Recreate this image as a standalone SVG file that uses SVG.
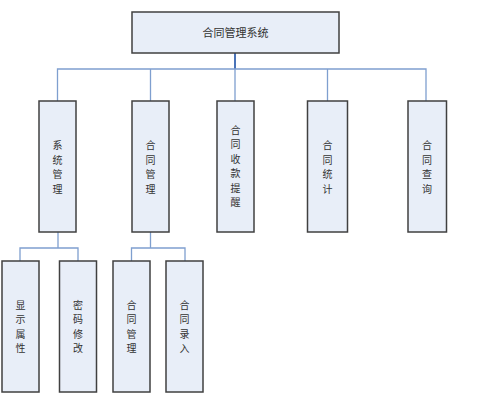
<svg xmlns="http://www.w3.org/2000/svg" width="480" height="413" viewBox="0 0 480 413">
<style>
.box{fill:#E8EEF8;stroke:#404040;stroke-width:1.5}
.t{font-family:"Noto Sans CJK SC","Noto Sans CJK JP",sans-serif;font-size:10px;fill:#333;text-anchor:middle}
.r{font-size:11px}
.c{fill:none;stroke:#7F9FCF;stroke-width:1.3}
</style>
<rect width="480" height="413" fill="#fff"/>
<g id="connectors">
<path d="M235 53V69" fill="none" stroke="#4A73B8" stroke-width="2"/>
<path class="c" d="M57.5 101V69H426V101M150.5 69V101M235 69V101M327.5 69V101"/>
<path class="c" d="M58 232V248M20 261V248H78V261"/>
<path class="c" d="M150.5 232V248M131.5 261V248H185V261"/>
</g>
<g id="root"><rect class="box" x="132" y="12" width="207" height="41"/><text class="t r" x="235.5" y="36.5">合同管理系统</text></g>
<g id="n1"><rect class="box" x="39" y="101" width="37" height="131"/><text class="t"><tspan x="57.5" y="149">系</tspan><tspan x="57.5" y="163.5">统</tspan><tspan x="57.5" y="178">管</tspan><tspan x="57.5" y="192.5">理</tspan></text></g>
<g id="n2"><rect class="box" x="132" y="101" width="37" height="131"/><text class="t"><tspan x="150.5" y="149">合</tspan><tspan x="150.5" y="163.5">同</tspan><tspan x="150.5" y="178">管</tspan><tspan x="150.5" y="192.5">理</tspan></text></g>
<g id="n3"><rect class="box" x="217" y="101" width="37" height="131"/><text class="t"><tspan x="235.5" y="133.5">合</tspan><tspan x="235.5" y="148">同</tspan><tspan x="235.5" y="162.5">收</tspan><tspan x="235.5" y="177">款</tspan><tspan x="235.5" y="191.5">提</tspan><tspan x="235.5" y="206">醒</tspan></text></g>
<g id="n4"><rect class="box" x="307.5" y="101" width="40" height="131"/><text class="t"><tspan x="327.5" y="149">合</tspan><tspan x="327.5" y="163.5">同</tspan><tspan x="327.5" y="178">统</tspan><tspan x="327.5" y="192.5">计</tspan></text></g>
<g id="n5"><rect class="box" x="408" y="101" width="38.5" height="131"/><text class="t"><tspan x="427" y="149">合</tspan><tspan x="427" y="163.5">同</tspan><tspan x="427" y="178">查</tspan><tspan x="427" y="192.5">询</tspan></text></g>
<g id="n11"><rect class="box" x="2" y="261" width="37" height="131"/><text class="t"><tspan x="20.5" y="308.5">显</tspan><tspan x="20.5" y="323">示</tspan><tspan x="20.5" y="337.5">属</tspan><tspan x="20.5" y="352">性</tspan></text></g>
<g id="n12"><rect class="box" x="59.5" y="261" width="37" height="131"/><text class="t"><tspan x="78" y="308.5">密</tspan><tspan x="78" y="323">码</tspan><tspan x="78" y="337.5">修</tspan><tspan x="78" y="352">改</tspan></text></g>
<g id="n21"><rect class="box" x="113" y="261" width="37" height="131"/><text class="t"><tspan x="131.5" y="308.5">合</tspan><tspan x="131.5" y="323">同</tspan><tspan x="131.5" y="337.5">管</tspan><tspan x="131.5" y="352">理</tspan></text></g>
<g id="n22"><rect class="box" x="166" y="261" width="37" height="131"/><text class="t"><tspan x="184.5" y="308.5">合</tspan><tspan x="184.5" y="323">同</tspan><tspan x="184.5" y="337.5">录</tspan><tspan x="184.5" y="352">入</tspan></text></g>
</svg>
